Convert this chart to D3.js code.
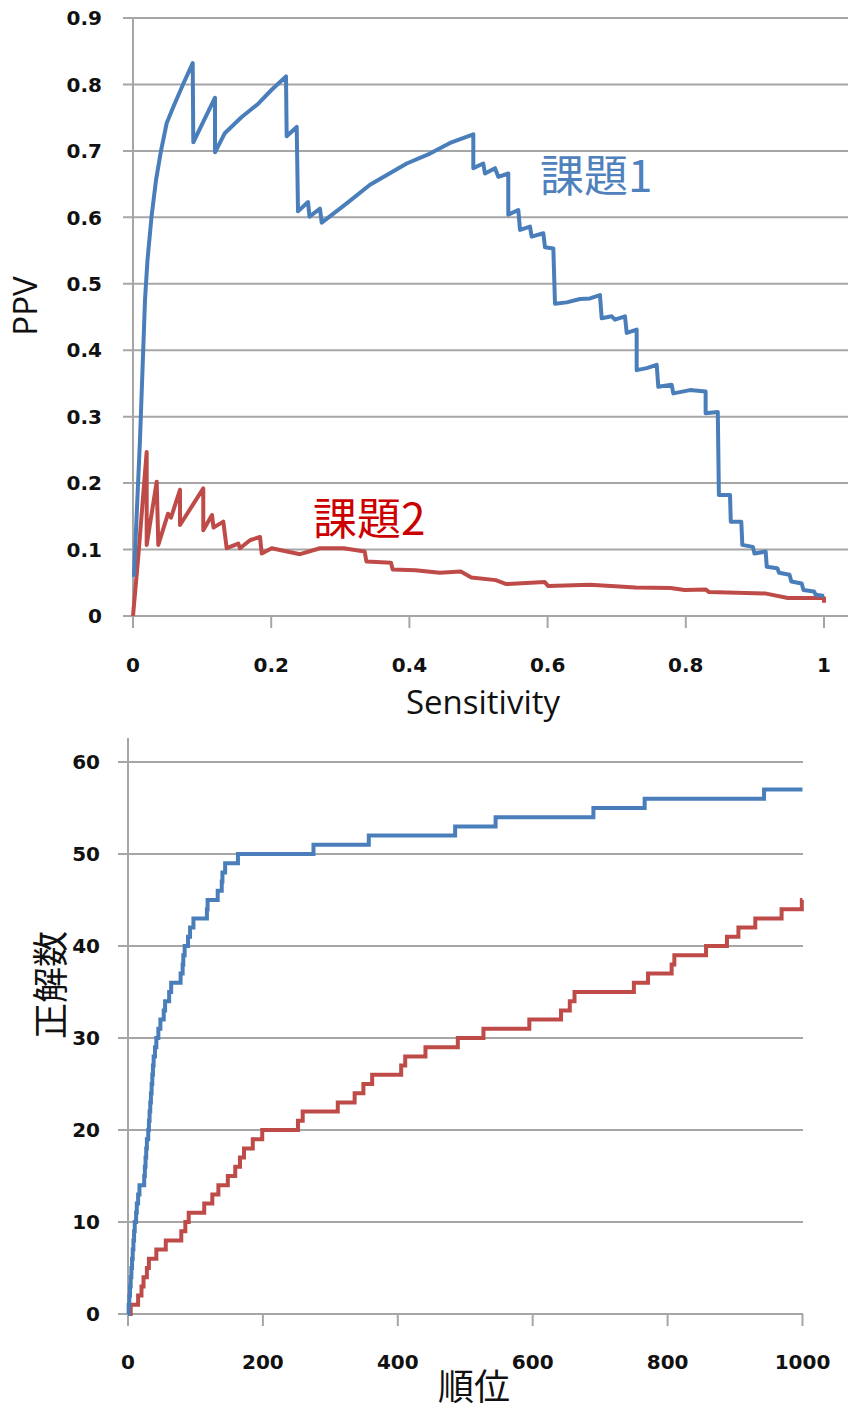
<!DOCTYPE html>
<html>
<head>
<meta charset="utf-8">
<script src="https://cdn.jsdelivr.net/npm/d3@7"></script>
<style>
  body { margin: 0; background: #fff; }
  svg { display: block; }
  .tick-label { font-family: "DejaVu Sans", sans-serif; font-weight: bold; font-size: 20px; fill: #111; }
  .axis-title { font-family: "Open Sans", sans-serif; font-size: 33px; fill: #111; }
  .axis-title-jp { font-family: "Noto Sans CJK JP", sans-serif; font-size: 36px; fill: #111; }
  .series-label { font-family: "Noto Sans CJK JP", sans-serif; font-size: 44px; }
</style>
</head>
<body>
<div id="chart"></div>
<script>

// ---- top chart: PPV vs Sensitivity ----
var sens1 = [0.0014, 0.0101, 0.0174, 0.0210, 0.0268, 0.0333, 0.0405, 0.0488, 0.0583, 0.0728, 0.0864,
  0.0873, 0.1187, 0.1187, 0.1331, 0.1573, 0.1813, 0.2007, 0.2214, 0.2224, 0.2369, 0.2388, 0.2533,
  0.2554, 0.2706, 0.2731, 0.3093, 0.3430, 0.3961, 0.4298, 0.4588, 0.4925, 0.4925, 0.5069, 0.5094,
  0.5239, 0.5287, 0.5431, 0.5431, 0.5576, 0.5601, 0.5745, 0.5770, 0.5938, 0.5962, 0.6083, 0.6107,
  0.6276, 0.6469, 0.6614, 0.6758, 0.6783, 0.6928, 0.6975, 0.7120, 0.7145, 0.7289, 0.7289, 0.7434,
  0.7579, 0.7602, 0.7796, 0.7819, 0.8061, 0.8287, 0.8287, 0.8463, 0.8479, 0.8640, 0.8651, 0.8803,
  0.8818, 0.8970, 0.8994, 0.9156, 0.9172, 0.9324, 0.9349, 0.9501, 0.9527, 0.9677, 0.9703, 0.9855,
  0.9880, 1.0];
var ppv1 = [0.059, 0.265, 0.476, 0.536, 0.601, 0.656, 0.700, 0.742, 0.766, 0.801, 0.832,
  0.713, 0.780, 0.698, 0.727, 0.751, 0.771, 0.792, 0.812, 0.722, 0.736, 0.609, 0.623,
  0.601, 0.613, 0.592, 0.621, 0.649, 0.681, 0.696, 0.712, 0.725, 0.674, 0.681, 0.666,
  0.674, 0.661, 0.666, 0.604, 0.611, 0.581, 0.586, 0.571, 0.576, 0.555, 0.553, 0.470,
  0.472, 0.477, 0.478, 0.483, 0.448, 0.451, 0.446, 0.451, 0.426, 0.431, 0.370, 0.373,
  0.378, 0.345, 0.348, 0.335, 0.340, 0.338, 0.305, 0.307, 0.182, 0.182, 0.142, 0.142,
  0.107, 0.104, 0.094, 0.097, 0.074, 0.072, 0.065, 0.062, 0.052, 0.049, 0.039, 0.037,
  0.032, 0.030];

var sens2 = [0.0, 0.0072, 0.0198, 0.0198, 0.0343, 0.0366, 0.0507, 0.0550, 0.0680, 0.0680, 0.1017,
  0.1017, 0.1143, 0.1165, 0.1307, 0.1356, 0.1524, 0.1548, 0.1693, 0.1838, 0.1863, 0.2007,
  0.2417, 0.2706, 0.3049, 0.3353, 0.3378, 0.3734, 0.3758, 0.4087, 0.4441, 0.4744, 0.4896,
  0.5250, 0.5402, 0.5959, 0.6010, 0.6616, 0.7275, 0.7780, 0.7983, 0.8287, 0.8336, 0.9146,
  0.9476, 1.0, 1.0];
var ppv2 = [0.0, 0.084, 0.247, 0.107, 0.202, 0.107, 0.154, 0.148, 0.190, 0.137, 0.192,
  0.129, 0.152, 0.133, 0.142, 0.102, 0.109, 0.102, 0.114, 0.119, 0.094, 0.102,
  0.093, 0.102, 0.102, 0.097, 0.082, 0.080, 0.070, 0.069, 0.065, 0.067, 0.058,
  0.054, 0.048, 0.051, 0.045, 0.047, 0.043, 0.042, 0.039, 0.040, 0.036, 0.034,
  0.027, 0.027, 0.020];

var topXTicks = [0, 0.2, 0.4, 0.6, 0.8, 1];
var topXLabels = ["0", "0.2", "0.4", "0.6", "0.8", "1"];
var topYTicks = [0, 0.1, 0.2, 0.3, 0.4, 0.5, 0.6, 0.7, 0.8, 0.9];
var topYLabels = ["0", "0.1", "0.2", "0.3", "0.4", "0.5", "0.6", "0.7", "0.8", "0.9"];

// ---- bottom chart: correct answers vs rank ----
var rank1 = [0, 1, 2, 3, 4, 5, 6, 7, 8, 9, 10, 12, 13, 15, 17, 24, 25, 26, 27, 28, 30, 31, 32, 33, 34,
  35, 36, 37, 38, 40, 42, 45, 48, 53, 55, 61, 64, 78, 81, 82, 84, 89, 92, 97, 117, 118, 133, 139,
  140, 144, 163, 275, 357, 485, 545, 690, 766, 943, 1000];
var correct1 = [0, 1, 2, 3, 4, 5, 6, 7, 8, 9, 10, 11, 12, 13, 14, 15, 16, 17, 18, 19, 20, 21, 22, 23, 24,
  25, 26, 27, 28, 29, 30, 31, 32, 33, 34, 35, 36, 37, 38, 39, 40, 41, 42, 43, 44, 45, 46, 47,
  48, 49, 50, 51, 52, 53, 54, 55, 56, 57, 57];

var rank2 = [0, 4, 15, 20, 23, 28, 31, 42, 56, 79, 85, 90, 113, 125, 134, 148, 159, 166, 172, 185, 199,
  252, 259, 311, 336, 349, 362, 405, 411, 441, 489, 527, 595, 642, 655, 662, 750, 771, 806, 810,
  857, 888, 905, 930, 969, 999, 1000];
var correct2 = [0, 1, 2, 3, 4, 5, 6, 7, 8, 9, 10, 11, 12, 13, 14, 15, 16, 17, 18, 19, 20,
  21, 22, 23, 24, 25, 26, 27, 28, 29, 30, 31, 32, 33, 34, 35, 36, 37, 38, 39,
  40, 41, 42, 43, 44, 45, 45];

var botXTicks = [0, 200, 400, 600, 800, 1000];
var botXLabels = ["0", "200", "400", "600", "800", "1000"];
var botYTicks = [0, 10, 20, 30, 40, 50, 60];
var botYLabels = ["0", "10", "20", "30", "40", "50", "60"];

var seriesNames = ["課題1", "課題2"];
var blue = "#4a7ebb", red = "#be4b48";
var gridColor = "#a6a6a6";

var svg = d3.select("#chart").append("svg")
  .attr("width", 848)
  .attr("height", 1409);

svg.append("rect").attr("width", 848).attr("height", 1409).attr("fill", "#fff");

function drawFrame(g, x, y, xTicks, xLabels, yTicks, yLabels, gridRight, axisTop, xLabelY, yLabelX) {
  var x0 = x.range()[0], y0 = y.range()[0];

  // horizontal gridlines (+ 10px tick to the left)
  g.selectAll(".grid").data(yTicks).enter().append("line")
    .attr("x1", x0 - 10).attr("x2", gridRight)
    .attr("y1", function(d) { return y(d); })
    .attr("y2", function(d) { return y(d); })
    .attr("stroke", gridColor).attr("stroke-width", 2);

  // vertical axis line
  g.append("line")
    .attr("x1", x0).attr("x2", x0)
    .attr("y1", axisTop).attr("y2", y0 + 12)
    .attr("stroke", gridColor).attr("stroke-width", 2);

  // x ticks
  g.selectAll(".xtick").data(xTicks.slice(1)).enter().append("line")
    .attr("x1", function(d) { return x(d); })
    .attr("x2", function(d) { return x(d); })
    .attr("y1", y0).attr("y2", y0 + 12)
    .attr("stroke", gridColor).attr("stroke-width", 2);

  g.selectAll(".xlab").data(xTicks).enter().append("text")
    .attr("class", "tick-label")
    .attr("x", function(d) { return x(d); })
    .attr("y", xLabelY)
    .attr("text-anchor", "middle")
    .text(function(d, i) { return xLabels[i]; });

  g.selectAll(".ylab").data(yTicks).enter().append("text")
    .attr("class", "tick-label")
    .attr("x", yLabelX)
    .attr("y", function(d) { return y(d); })
    .attr("dy", "0.36em")
    .attr("text-anchor", "end")
    .text(function(d, i) { return yLabels[i]; });
}

// ---------- top ----------
var xTop = d3.scaleLinear().domain([0, 1]).range([133, 824]);
var yTop = d3.scaleLinear().domain([0, 0.9]).range([616, 18]);
var gTop = svg.append("g");
drawFrame(gTop, xTop, yTop, topXTicks, topXLabels, topYTicks, topYLabels, 848, yTop(0.9), 672, 102);

var lineTop = d3.line()
  .x(function(d) { return xTop(d[0]); })
  .y(function(d) { return yTop(d[1]); });

gTop.append("path")
  .datum(d3.zip(sens2, ppv2))
  .attr("d", lineTop)
  .attr("fill", "none").attr("stroke", red).attr("stroke-width", 4)
  .attr("stroke-linejoin", "round");

gTop.append("path")
  .datum(d3.zip(sens1, ppv1))
  .attr("d", lineTop)
  .attr("fill", "none").attr("stroke", blue).attr("stroke-width", 4)
  .attr("stroke-linejoin", "round");

gTop.append("text").attr("class", "series-label")
  .attr("x", 540).attr("y", 192).attr("fill", "#4f81bd").text(seriesNames[0]);
gTop.append("text").attr("class", "series-label")
  .attr("x", 313).attr("y", 535).attr("fill", "#cc0000").text(seriesNames[1]);

gTop.append("text").attr("class", "axis-title")
  .attr("transform", "translate(37,306) rotate(-90)")
  .attr("text-anchor", "middle")
  .text("PPV");
gTop.append("text").attr("class", "axis-title")
  .attr("x", 483).attr("y", 714)
  .attr("text-anchor", "middle")
  .text("Sensitivity");

// ---------- bottom ----------
var xBot = d3.scaleLinear().domain([0, 1000]).range([128, 802.5]);
var yBot = d3.scaleLinear().domain([0, 60]).range([1314, 762]);
var gBot = svg.append("g");
drawFrame(gBot, xBot, yBot, botXTicks, botXLabels, botYTicks, botYLabels, 803, 738, 1369, 100);

var lineBot = d3.line()
  .curve(d3.curveStepAfter)
  .x(function(d) { return xBot(d[0]); })
  .y(function(d) { return yBot(d[1]); });

gBot.append("path")
  .datum(d3.zip(rank2, correct2))
  .attr("d", lineBot)
  .attr("fill", "none").attr("stroke", red).attr("stroke-width", 4);

gBot.append("path")
  .datum(d3.zip(rank1, correct1))
  .attr("d", lineBot)
  .attr("fill", "none").attr("stroke", blue).attr("stroke-width", 4);

gBot.append("text").attr("class", "axis-title-jp")
  .attr("transform", "translate(64,985) rotate(-90)")
  .attr("text-anchor", "middle")
  .text("正解数");
gBot.append("text").attr("class", "axis-title-jp")
  .attr("x", 474).attr("y", 1400)
  .attr("text-anchor", "middle")
  .text("順位");

</script>
</body>
</html>
